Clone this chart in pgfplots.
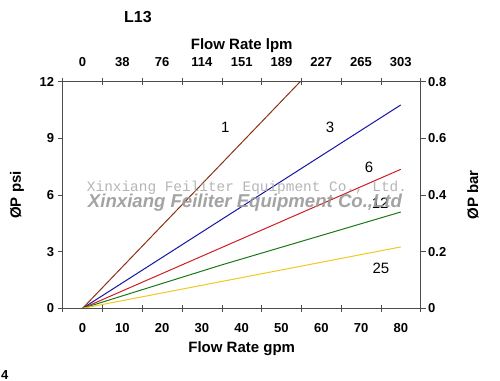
\documentclass[border=0pt]{standalone}
\usepackage{fontspec}
\setmainfont{Liberation Sans}
\newfontfamily\wmmono{Liberation Mono}
\usepackage{graphicx}
\usepackage{pgfplots}
\pgfplotsset{compat=1.18}
\definecolor{cbrown}{RGB}{140,50,20}
\definecolor{cblue}{RGB}{20,20,165}
\definecolor{cred}{RGB}{205,30,35}
\definecolor{cgreen}{RGB}{25,120,25}
\definecolor{cyellow}{RGB}{240,200,30}
\newcommand{\tfont}{\fontsize{13bp}{15bp}\selectfont\bfseries}
\newcommand{\lfont}{\fontsize{15bp}{17bp}\selectfont\bfseries}
\pgfplotsset{
  common/.style={
    at={(62.7bp,72.7bp)}, anchor=south west,
    scale only axis, width=358bp, height=226.6bp,
    xmin=-5, xmax=85,
    /pgf/number format/assume math mode=true,
    tick label style={font=\tfont},
    label style={font=\lfont},
    axis line style={gray!60!black, line width=0.6bp},
    every tick/.style={gray!60!black, line width=0.6bp},
  }
}
\begin{document}
\begin{tikzpicture}
\useasboundingbox (0,0) rectangle (500bp,381bp);
% Axis A: data, bottom labels
\begin{axis}[common,
  ymin=0, ymax=12, clip=false,
  ytick=\empty,
  xtick={0,10,...,80}, xtick pos=both, xticklabel pos=bottom,
  major tick length=0pt,
  minor xtick={-5,5,...,85}, minor tick length=7bp, tick align=center,
  xlabel={Flow Rate gpm},
  xticklabel style={yshift=-12bp},
  xlabel style={yshift=-2bp},
]
\addplot[cbrown, line width=1bp] coordinates {(0,0) (54.7,12)};
\addplot[cblue, line width=1bp] coordinates {(0,0) (80,10.77)};
\addplot[cred, line width=1bp] coordinates {(0,0) (80,7.36)};
\addplot[cgreen, line width=1bp] coordinates {(0,0) (35,2.3) (80,5.1)};
\addplot[cyellow, line width=1bp] coordinates {(0,0) (80,3.25)};
\node[font=\fontsize{15bp}{17bp}\selectfont] at (axis cs:35.9,9.6) {1};
\node[font=\fontsize{15bp}{17bp}\selectfont] at (axis cs:62.2,9.6) {3};
\node[font=\fontsize{15bp}{17bp}\selectfont] at (axis cs:72,7.48) {6};
\node[font=\fontsize{15bp}{17bp}\selectfont] at (axis cs:74.8,5.58) {12};
\node[font=\fontsize{15bp}{17bp}\selectfont] at (axis cs:75,2.14) {25};
\end{axis}
% Axis B: left psi ticks
\begin{axis}[common,
  ymin=0, ymax=12,
  xtick=\empty,
  ytick={0,3,...,12}, ytick pos=both, yticklabel pos=left,
  tick align=outside, major tick length=5bp,
  ylabel={ØP psi},
  ylabel style={yshift=9bp},
]
\end{axis}
% Axis C: top lpm labels, right bar labels
\begin{axis}[common,
  ymin=0, ymax=0.8,
  axis line style={draw=none},
  xtick={0,10,...,80},
  xticklabels={0,38,76,114,151,189,227,265,303},
  xtick pos=top, xticklabel pos=top,
  ytick={0,0.2,...,0.8}, ytick pos=right, yticklabel pos=right,
  yticklabel style={/pgf/number format/fixed, /pgf/number format/precision=1, xshift=4bp},
  major tick length=0pt,
  xticklabel style={yshift=12bp},
  xlabel={Flow Rate lpm}, xlabel style={yshift=-2bp},
  ylabel={ØP bar}, ylabel style={yshift=-14bp},
]
\end{axis}
\node[font=\fontsize{16bp}{18bp}\selectfont\bfseries] at (138bp,364bp) {L13};
\node[font=\fontsize{13bp}{15bp}\selectfont\bfseries, anchor=south west, inner sep=1bp] at (0bp,0bp) {4};
\node[text=black!32, opacity=0.9] at (247bp,193bp) {\resizebox{320bp}{!}{\wmmono Xinxiang Feiliter Equipment Co., Ltd.}};
\node[text=black!40, opacity=0.9] at (245bp,178bp) {\resizebox{314bp}{!}{\bfseries\itshape Xinxiang Feiliter Equipment Co.,Ltd}};
\end{tikzpicture}
\end{document}
